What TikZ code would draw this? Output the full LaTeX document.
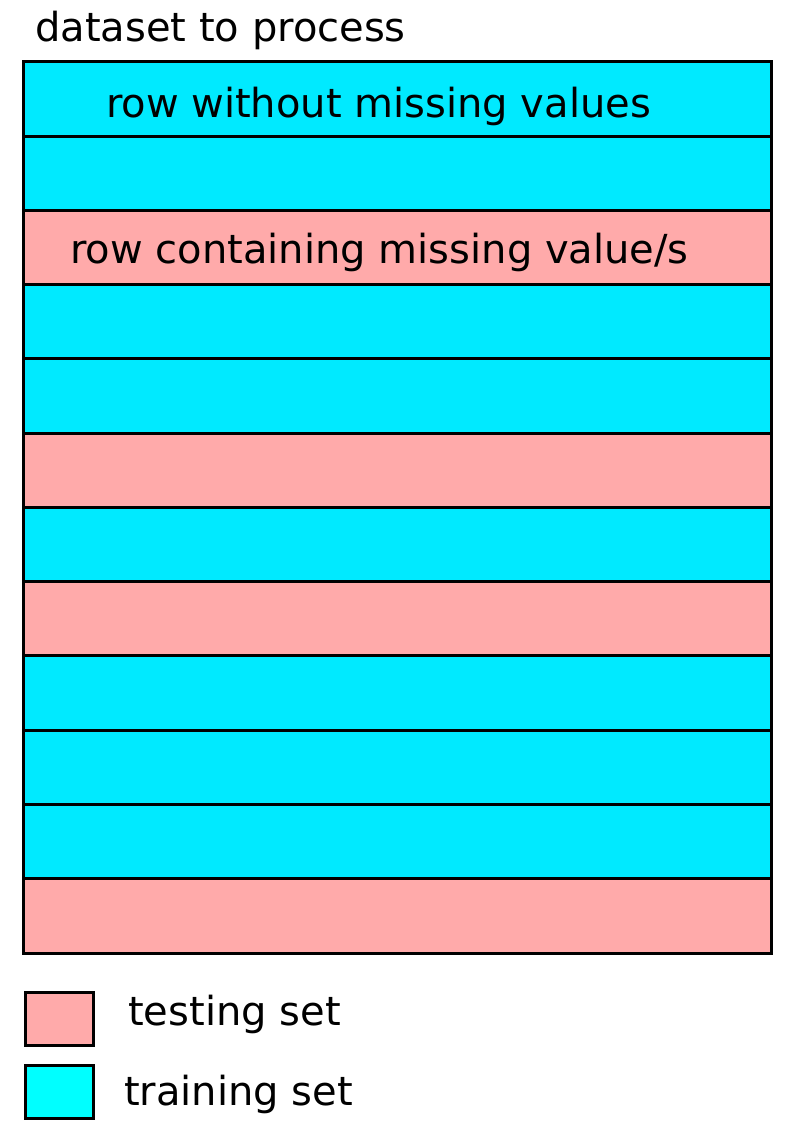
\documentclass[tikz,border=0pt]{standalone}
\usepackage{fontspec}
\setmainfont{DejaVu Sans}
\usetikzlibrary{positioning}
\definecolor{trainrow}{RGB}{0,234,255}
\definecolor{trainkey}{RGB}{0,255,255}
\definecolor{testrow}{RGB}{255,170,170}
\begin{document}
\begin{tikzpicture}
  [x=1pt,y=-1pt,
   row/.style={rectangle,draw=black,line width=3pt,inner sep=0pt,minimum width=748pt,minimum height=74.25pt},
   train/.style={row,fill=trainrow},
   test/.style={row,fill=testrow},
   key/.style={rectangle,draw=black,line width=3pt,inner sep=0pt,minimum width=68pt,minimum height=53pt},
   txt/.style={inner sep=0pt,font=\fontsize{40}{48}\selectfont}]
  \useasboundingbox (0,0) rectangle (794,1123);
  \node[train] (r1) at (397,99.1) {};
  \node[train] (r2) at (397,173.4) {};
  \node[test] (r3) at (397,247.6) {};
  \node[train] (r4) at (397,321.9) {};
  \node[train] (r5) at (397,396.1) {};
  \node[test] (r6) at (397,470.4) {};
  \node[train] (r7) at (397,544.6) {};
  \node[test] (r8) at (397,618.9) {};
  \node[train] (r9) at (397,693.1) {};
  \node[train] (r10) at (397,767.4) {};
  \node[train] (r11) at (397,841.6) {};
  \node[test] (r12) at (397,915.9) {};

  \node[txt,anchor=base west] (title) at (35,42) {dataset to process};
  \node[txt,anchor=base] (l1) at (378.5,118) {row without missing values};
  \node[txt,anchor=base] (l3) at (379.5,263) {row containing missing value/s};

  \node[key,fill=testrow] (ktest) at (59,1018.5) {};
  \node[key,fill=trainkey] (ktrain) at (59,1092) {};
  \node[txt,anchor=base west] (ltest) at (128,1025) {testing set};
  \node[txt,anchor=base west] (ltrain) at (124,1105) {training set};
\end{tikzpicture}
\end{document}
